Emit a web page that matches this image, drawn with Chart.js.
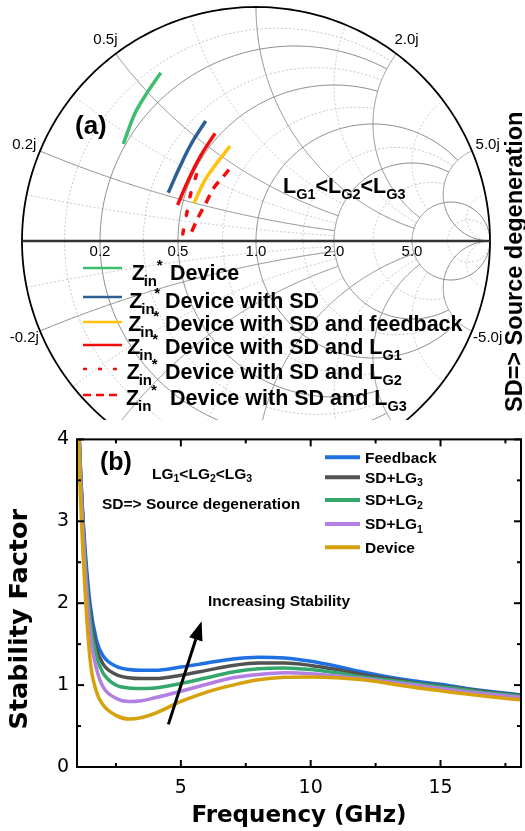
<!DOCTYPE html>
<html><head><meta charset="utf-8">
<script src="https://cdn.jsdelivr.net/npm/chart.js@4.4.1/dist/chart.umd.min.js"></script>
<style>
html,body{margin:0;padding:0;background:#fff;}
#wrap{position:relative;width:525px;height:831px;overflow:hidden;background:#fff;}
#c1{position:absolute;left:0;top:0;}
#c2{position:absolute;left:0;top:420px;}
</style></head><body>
<div id="wrap">
<canvas id="c1" width="525" height="420"></canvas>
<canvas id="c2" width="525" height="411"></canvas>
</div>
<script>
// ---------- Panel (a): Smith chart data (conjugate input reflection coefficient, Re / Im) ----------
const devRe = [-0.567, -0.517, -0.467, -0.407];
const devIm = [0.415, 0.546, 0.631, 0.719];
const sdRe  = [-0.375, -0.325, -0.275, -0.215];
const sdIm  = [0.206, 0.318, 0.418, 0.513];
const fbRe  = [-0.265, -0.218, -0.168, -0.111];
const fbIm  = [0.161, 0.261, 0.332, 0.406];
const lg1Re = [-0.335, -0.289, -0.239, -0.175];
const lg1Im = [0.154, 0.261, 0.360, 0.460];
const lg2Re = [-0.313, -0.296, -0.278, -0.253];
const lg2Im = [0.030, 0.118, 0.206, 0.289];
const lg3Re = [-0.275, -0.242, -0.211, -0.182, -0.140, -0.108];
const lg3Im = [0.040, 0.111, 0.168, 0.225, 0.275, 0.315];
const smithLabels = ['Device', 'Device with SD', 'Device with SD and feedback', 'Device with SD and L', 'Device with SD and L', 'Device with SD and L'];
const smithLabelSubs = ['', '', '', 'G1', 'G2', 'G3'];

// Smith grid values (normalized resistance / reactance)
const gridMajor = [0.2, 0.5, 1.0, 2.0, 5.0];
const gridMinor = [0.1, 0.35, 0.75, 1.5, 3, 10];
const rLabels = ['0.2', '0.5', '1.0', '2.0', '5.0'];
const xLabels = ['0.2j', '0.5j', '1.0j', '2.0j', '5.0j'];
const xLabelsNeg = ['-0.2j', '-0.5j', '-1.0j', '-2.0j', '-5.0j'];

// ---------- Panel (b): stability factor ----------
const freq      = [1, 1.1, 1.25, 1.5, 1.75, 2, 2.5, 3, 3.5, 4, 5, 6, 7, 8, 9, 10, 11, 12, 13, 14, 15, 16, 17, 18.1];
const kFeedback = [4.9, 3.9, 2.95, 2.0, 1.55, 1.36, 1.23, 1.19, 1.18, 1.18, 1.22, 1.27, 1.32, 1.34, 1.33, 1.29, 1.23, 1.16, 1.10, 1.05, 1.01, 0.96, 0.92, 0.88];
const kSdLg3    = [4.9, 3.9, 2.9, 1.9, 1.45, 1.26, 1.13, 1.09, 1.08, 1.08, 1.12, 1.18, 1.24, 1.27, 1.27, 1.24, 1.19, 1.13, 1.08, 1.03, 0.99, 0.95, 0.91, 0.875];
const kSdLg2    = [4.9, 3.85, 2.85, 1.8, 1.35, 1.15, 1.0, 0.965, 0.96, 0.965, 1.02, 1.09, 1.16, 1.2, 1.21, 1.19, 1.15, 1.10, 1.06, 1.02, 0.98, 0.94, 0.90, 0.865];
const kSdLg1    = [4.9, 3.8, 2.75, 1.65, 1.2, 0.98, 0.84, 0.80, 0.81, 0.845, 0.925, 1.01, 1.09, 1.13, 1.15, 1.14, 1.11, 1.08, 1.04, 1.0, 0.96, 0.92, 0.885, 0.85];
const kDevice   = [4.9, 3.6, 2.5, 1.32, 0.92, 0.76, 0.63, 0.585, 0.605, 0.655, 0.80, 0.915, 1.0, 1.065, 1.095, 1.10, 1.09, 1.065, 1.02, 0.97, 0.93, 0.89, 0.855, 0.82];
const seriesNames = ['Feedback', 'SD+LG', 'SD+LG', 'SD+LG', 'Device'];
const seriesSubs  = ['', '3', '2', '1', ''];
const xTickValues = [2.5, 5, 7.5, 10, 12.5, 15, 17.5];
const yTickValues = [0, 0.5, 1, 1.5, 2, 2.5, 3, 3.5, 4];

const ARIAL = '"Liberation Sans", Arial, sans-serif';
const DV = '"DejaVu Sans", sans-serif';

// ---------------- Smith chart ----------------
function gamma(a, b) { const d = (a + 1) * (a + 1) + b * b; return [(a * a - 1 + b * b) / d, 2 * b / d]; }
function lim(v) { return v < 0.9 ? 2 : (v < 4.9 ? 5 : Infinity); }
function strokePts(ctx, xs, ys, pts) {
  ctx.beginPath();
  pts.forEach((p, i) => {
    const X = xs.getPixelForValue(p[0]), Y = ys.getPixelForValue(p[1]);
    if (i) ctx.lineTo(X, Y); else ctx.moveTo(X, Y);
  });
  ctx.stroke();
}
function rCircle(r, X) {
  const N = 300, pts = [], a = Math.atan(X);
  for (let i = 0; i <= N; i++) {
    const phi = -a + 2 * a * i / N;
    let t = Math.tan(phi);
    if (!isFinite(t) || Math.abs(t) > 1e7) t = Math.sign(phi) * 1e7;
    pts.push(gamma(r, t));
  }
  return pts;
}
function xArc(x, R) {
  const N = 300, pts = [], a = Math.atan(R);
  for (let i = 0; i <= N; i++) {
    let r = Math.tan(a * i / N);
    if (!isFinite(r) || r > 1e7) r = 1e7;
    pts.push(gamma(r, x));
  }
  return pts;
}

const smithGrid = {
  id: 'smithGrid',
  beforeDatasetsDraw(chart) {
    const ctx = chart.ctx, xs = chart.scales.x, ys = chart.scales.y;
    ctx.save();
    ctx.strokeStyle = '#c4c4c4'; ctx.lineWidth = 1; ctx.setLineDash([2, 2]);
    gridMinor.forEach(v => {
      strokePts(ctx, xs, ys, rCircle(v, lim(v)));
      strokePts(ctx, xs, ys, xArc(v, lim(v)));
      strokePts(ctx, xs, ys, xArc(-v, lim(v)));
    });
    ctx.setLineDash([]); ctx.strokeStyle = '#8a8a8a'; ctx.lineWidth = 1;
    gridMajor.forEach(v => {
      strokePts(ctx, xs, ys, rCircle(v, lim(v)));
      strokePts(ctx, xs, ys, xArc(v, lim(v)));
      strokePts(ctx, xs, ys, xArc(-v, lim(v)));
    });
    ctx.strokeStyle = '#000'; ctx.lineWidth = 1.8;
    strokePts(ctx, xs, ys, rCircle(0, Infinity));
    ctx.strokeStyle = '#333'; ctx.lineWidth = 2.5;
    strokePts(ctx, xs, ys, [[-1, 0], [1, 0]]);
    ctx.fillStyle = '#000'; ctx.font = '15px ' + ARIAL;
    ctx.textAlign = 'center'; ctx.textBaseline = 'middle';
    const cx = xs.getPixelForValue(0), cy = ys.getPixelForValue(0);
    const R = xs.getPixelForValue(1) - cx;
    gridMajor.forEach((v, i) => {
      const g = gamma(v, 0);
      ctx.fillText(rLabels[i], xs.getPixelForValue(g[0]), cy + 11);
      [[v, xLabels[i]], [-v, xLabelsNeg[i]]].forEach(([xv, txt]) => {
        const p = gamma(0, xv);
        ctx.fillText(txt, cx + (R + 17) * p[0], cy - (R + 17) * p[1]);
      });
    });
    ctx.restore();
  }
};

function drawZin(ctx, x, base) {
  ctx.textAlign = 'left'; ctx.textBaseline = 'alphabetic';
  ctx.font = 'bold 21.5px ' + ARIAL; ctx.fillText('Z', x, base);
  ctx.font = 'bold 15px ' + ARIAL; ctx.fillText('in', x + 12, base + 6);
  ctx.font = 'bold 15px ' + ARIAL; ctx.fillText('*', x + 25, base - 10);
}

const smithText = {
  id: 'smithText',
  afterDraw(chart) {
    const ctx = chart.ctx;
    ctx.save();
    ctx.fillStyle = '#000';
    ctx.font = 'bold 26px ' + ARIAL; ctx.textAlign = 'left'; ctx.textBaseline = 'alphabetic';
    ctx.fillText('(a)', 75, 134);
    let x = 283; const b = 193;
    ['1', '2', '3'].forEach((n, i) => {
      ctx.font = 'bold 21.5px ' + ARIAL; ctx.fillText('L', x, b); x += ctx.measureText('L').width;
      ctx.font = 'bold 14.5px ' + ARIAL; ctx.fillText('G' + n, x, b + 6); x += ctx.measureText('G' + n).width;
      if (i < 2) { ctx.font = 'bold 21.5px ' + ARIAL; ctx.fillText('<', x, b); x += ctx.measureText('<').width; }
    });
    ctx.save();
    ctx.translate(516, 412); ctx.rotate(-Math.PI / 2);
    ctx.font = 'bold 23.5px ' + ARIAL; ctx.textBaseline = 'middle'; ctx.textAlign = 'left';
    ctx.fillText('SD=> Source degeneration', 0, 0);
    ctx.restore();
    const rows = [
      {zx: 131.7, base: 280, tx: 170, ly: 268},
      {zx: 129.3, base: 308, tx: 165, ly: 297},
      {zx: 128.3, base: 331, tx: 165, ly: 322},
      {zx: 127.3, base: 354, tx: 165, ly: 345},
      {zx: 126.7, base: 379, tx: 165, ly: 369},
      {zx: 126.0, base: 405, tx: 170, ly: 395}
    ];
    chart.data.datasets.forEach((ds, i) => {
      const r = rows[i];
      ctx.save();
      ctx.strokeStyle = ds.borderColor; ctx.lineWidth = 2.5;
      ctx.setLineDash(ds.legendDash || []); ctx.lineCap = 'butt';
      ctx.beginPath(); ctx.moveTo(83, r.ly); ctx.lineTo(122, r.ly); ctx.stroke();
      ctx.restore();
      drawZin(ctx, r.zx, r.base);
      ctx.font = 'bold 21.5px ' + ARIAL; ctx.textAlign = 'left';
      ctx.fillText(smithLabels[i], r.tx, r.base);
      if (smithLabelSubs[i]) {
        const w = ctx.measureText(smithLabels[i]).width;
        ctx.font = 'bold 14.5px ' + ARIAL;
        ctx.fillText(smithLabelSubs[i], r.tx + w, r.base + 6);
      }
    });
    ctx.restore();
  }
};

function toPts(re, im) { return re.map((v, i) => ({x: v, y: im[i]})); }
const smithSets = [
  {re: devRe, im: devIm, color: '#3dbe6e', dash: [], ldash: []},
  {re: sdRe, im: sdIm, color: '#2d5f96', dash: [], ldash: []},
  {re: fbRe, im: fbIm, color: '#ffc10e', dash: [], ldash: []},
  {re: lg1Re, im: lg1Im, color: '#f20d0d', dash: [], ldash: []},
  {re: lg2Re, im: lg2Im, color: '#f20d0d', dash: [4, 15], ldash: [4, 11], cap: 'round'},
  {re: lg3Re, im: lg3Im, color: '#f20d0d', dash: [9, 7], ldash: [8, 5]}
];

new Chart(document.getElementById('c1'), {
  type: 'scatter',
  data: {
    datasets: smithSets.map(s => ({
      data: toPts(s.re, s.im), showLine: true, borderColor: s.color, borderWidth: 3.5,
      borderDash: s.dash, legendDash: s.ldash, borderCapStyle: s.cap || 'butt',
      pointRadius: 0, tension: 0.4, fill: false
    }))
  },
  options: {
    responsive: false, animation: false, devicePixelRatio: 1,
    layout: {padding: {left: 22, right: 35, top: 7, bottom: 0}},
    plugins: {legend: {display: false}, tooltip: {enabled: false}},
    scales: {
      x: {type: 'linear', min: -1, max: 1, display: false},
      y: {type: 'linear', min: 1 - 413 / 234, max: 1, display: false}
    }
  },
  plugins: [smithGrid, smithText]
});

// ---------------- Stability factor chart ----------------
const kSeries = [
  {vals: kDevice, color: '#d6a10c'},
  {vals: kSdLg1, color: '#b37fe3'},
  {vals: kSdLg2, color: '#34a86c'},
  {vals: kSdLg3, color: '#525252'},
  {vals: kFeedback, color: '#1f70e2'}
];

const frameTicks = {
  id: 'frameTicks',
  afterDraw(chart) {
    const {ctx, chartArea: a, scales: {x, y}} = chart;
    ctx.save();
    ctx.strokeStyle = '#000';
    ctx.lineWidth = 2;
    ctx.strokeRect(a.left, a.top, a.right - a.left, a.bottom - a.top);
    const ln = (x1, y1, x2, y2) => { ctx.beginPath(); ctx.moveTo(x1, y1); ctx.lineTo(x2, y2); ctx.stroke(); };
    x.ticks.forEach(t => {
      const p = x.getPixelForValue(t.value), L = (t.value % 5 === 0) ? 7 : 4;
      ln(p, a.bottom, p, a.bottom - L); ln(p, a.top, p, a.top + L);
    });
    y.ticks.forEach(t => {
      const p = y.getPixelForValue(t.value), L = (t.value % 1 === 0) ? 7 : 4;
      ln(a.left, p, a.left + L, p); ln(a.right, p, a.right - L, p);
    });
    // y axis title
    ctx.save();
    ctx.fillStyle = '#000';
    ctx.translate(20, (a.top + a.bottom) / 2 + 16); ctx.rotate(-Math.PI / 2);
    ctx.font = 'bold 25.5px ' + DV; ctx.textAlign = 'center'; ctx.textBaseline = 'middle';
    ctx.fillText('Stability Factor', 0, 0);
    ctx.restore();
    ctx.restore();
  }
};

const panelB = {
  id: 'panelB',
  afterDraw(chart) {
    const {ctx, scales: {x, y}} = chart;
    ctx.save();
    ctx.fillStyle = '#000'; ctx.textAlign = 'left'; ctx.textBaseline = 'middle';
    ctx.font = 'bold 25px ' + ARIAL; ctx.fillText('(b)', 100, 43);
    let px = 152;
    ['1', '2', '3'].forEach((n, i) => {
      ctx.font = 'bold 15.5px ' + ARIAL; ctx.fillText('LG', px, 55); px += ctx.measureText('LG').width;
      ctx.font = 'bold 10.5px ' + ARIAL; ctx.fillText(n, px, 59); px += ctx.measureText(n).width;
      if (i < 2) { ctx.font = 'bold 15.5px ' + ARIAL; ctx.fillText('<', px, 55); px += ctx.measureText('<').width; }
    });
    ctx.font = 'bold 15.5px ' + ARIAL; ctx.fillText('SD=> Source degeneration', 102, 85);
    const ly = [37.3, 57.3, 80, 104, 127.3];
    const order = [4, 3, 2, 1, 0];
    order.forEach((dsIdx, row) => {
      const ds = chart.data.datasets[dsIdx];
      ctx.strokeStyle = ds.borderColor; ctx.lineWidth = 4; ctx.lineCap = 'butt';
      ctx.beginPath(); ctx.moveTo(325, ly[row]); ctx.lineTo(360, ly[row]); ctx.stroke();
      ctx.font = 'bold 15.5px ' + ARIAL;
      ctx.fillText(seriesNames[row], 365, ly[row] + 1);
      if (seriesSubs[row]) {
        const w = ctx.measureText(seriesNames[row]).width;
        ctx.font = 'bold 10.5px ' + ARIAL;
        ctx.fillText(seriesSubs[row], 365 + w, ly[row] + 6);
      }
    });
    const tx = x.getPixelForValue(4.52), ty = y.getPixelForValue(0.52);
    const hx = x.getPixelForValue(5.8), hy = y.getPixelForValue(1.78);
    const ang = Math.atan2(hy - ty, hx - tx), hl = 19, hw = 7;
    const bx = hx - hl * Math.cos(ang), by = hy - hl * Math.sin(ang);
    ctx.strokeStyle = '#000'; ctx.lineWidth = 3;
    ctx.beginPath(); ctx.moveTo(tx, ty); ctx.lineTo(bx, by); ctx.stroke();
    ctx.fillStyle = '#000';
    ctx.beginPath(); ctx.moveTo(hx, hy);
    ctx.lineTo(bx + hw * Math.sin(ang), by - hw * Math.cos(ang));
    ctx.lineTo(bx - hw * Math.sin(ang), by + hw * Math.cos(ang));
    ctx.closePath(); ctx.fill();
    ctx.font = 'bold 15.5px ' + ARIAL; ctx.textBaseline = 'middle';
    ctx.fillText('Increasing Stability', 208, 182);
    ctx.restore();
  }
};

new Chart(document.getElementById('c2'), {
  type: 'line',
  data: {
    datasets: kSeries.map(s => ({
      data: freq.map((f, i) => ({x: f, y: s.vals[i]})),
      borderColor: s.color, borderWidth: 3.5, pointRadius: 0,
      cubicInterpolationMode: 'monotone', fill: false
    }))
  },
  options: {
    responsive: false, animation: false, devicePixelRatio: 1,
    layout: {padding: {left: 0, right: 4, top: 13, bottom: 0}},
    plugins: {legend: {display: false}, tooltip: {enabled: false}},
    scales: {
      x: {
        type: 'linear', min: 1, max: 18.1,
        grid: {display: false, drawTicks: false}, border: {display: false},
        afterBuildTicks: s => { s.ticks = xTickValues.map(v => ({value: v})); },
        afterFit: s => { s.height = 64; },
        ticks: {autoSkip: false, maxRotation: 0, padding: 10, color: '#000', font: {family: DV, size: 19},
          callback: v => (v % 5 === 0 ? String(v) : '')},
        title: {display: true, text: 'Frequency (GHz)', color: '#000', font: {family: DV, size: 23, weight: 'bold'}, padding: {top: 0, bottom: 1}}
      },
      y: {
        type: 'linear', min: 0, max: 4,
        grid: {display: false, drawTicks: false}, border: {display: false},
        afterBuildTicks: s => { s.ticks = yTickValues.map(v => ({value: v})); },
        afterFit: s => { s.width = 77; },
        ticks: {autoSkip: false, padding: 8, color: '#000', font: {family: DV, size: 19},
          callback: v => (v % 1 === 0 ? String(v) : '')},
        title: {display: false}
      }
    }
  },
  plugins: [frameTicks, panelB]
});
</script>
</body></html>
